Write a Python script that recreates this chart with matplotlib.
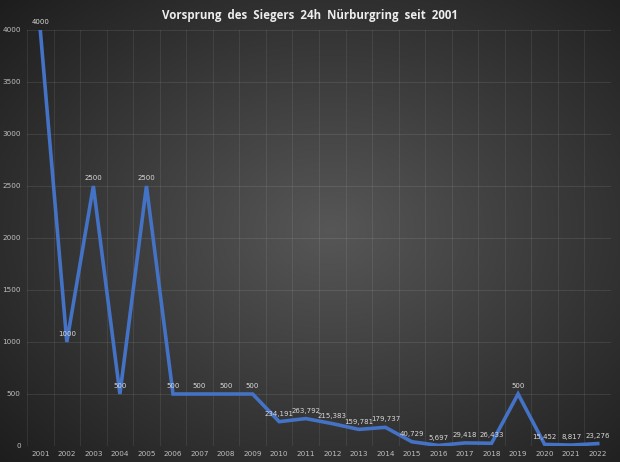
import numpy as np
import matplotlib
matplotlib.use("Agg")
import matplotlib.pyplot as plt
from matplotlib.ticker import MultipleLocator

# Data
years = [str(y) for y in range(2001, 2023)]
gaps = [4000, 1000, 2500, 500, 2500, 500, 500, 500, 500,
        234.191, 263.792, 215.383, 159.781, 179.737, 40.729, 5.697,
        29.418, 26.433, 500, 15.452, 8.817, 23.276]

def fmt(v):
    if float(v).is_integer():
        return str(int(v))
    return ("%.3f" % v).replace(".", ",")

W, H = 620, 462
fig = plt.figure(figsize=(W / 100, H / 100), dpi=100)

# radial grey gradient background
bg = fig.add_axes([0, 0, 1, 1], zorder=-10)
yy, xx = np.mgrid[0:H, 0:W]
r = np.sqrt(((xx - 330) / 400.0) ** 2 + ((yy - 230) / 300.0) ** 2)
shade = np.clip(0.34 - 0.20 * r, 0.11, 0.34)
bg.imshow(np.dstack([shade, shade, shade]), aspect="auto", extent=[0, 1, 0, 1])
bg.axis("off")

ax = fig.add_axes([27 / W, 1 - 446 / H, (611 - 27) / W, (446 - 30) / H])
ax.patch.set_alpha(0)
x = np.arange(len(years))
ax.plot(x, gaps, color="#4472c4", lw=2.6, solid_joinstyle="miter", zorder=3)

for xi, v in zip(x, gaps):
    ax.annotate(fmt(v), (xi, v), xytext=(0, 3.5), textcoords="offset points",
                ha="center", va="bottom", fontsize=5, color="#d9d9d9", zorder=4)

ax.set_xlim(-0.5, len(years) - 0.5)
ax.set_ylim(0, 4000)
ax.set_xticks(x)
ax.set_xticklabels(years)
ax.set_xticks(np.arange(-0.5, len(years), 1.0), minor=True)
ax.yaxis.set_major_locator(MultipleLocator(500))

ax.grid(which="major", axis="y", color="#ffffff", alpha=0.09, lw=0.8)
ax.grid(which="minor", axis="x", color="#ffffff", alpha=0.08, lw=0.8)
ax.tick_params(which="both", length=0, colors="#bfbfbf", labelsize=5.2)
ax.tick_params(axis="y", pad=4.5)
for s in ax.spines.values():
    s.set_visible(False)

fig.text(0.5, 1 - 16 / H, "Vorsprung  des  Siegers  24h  Nürburgring  seit  2001",
         ha="center", va="center", fontsize=8.3, fontweight="bold",
         family="Open Sans", color="#ededed")

fig.savefig("out.png", dpi=100)
